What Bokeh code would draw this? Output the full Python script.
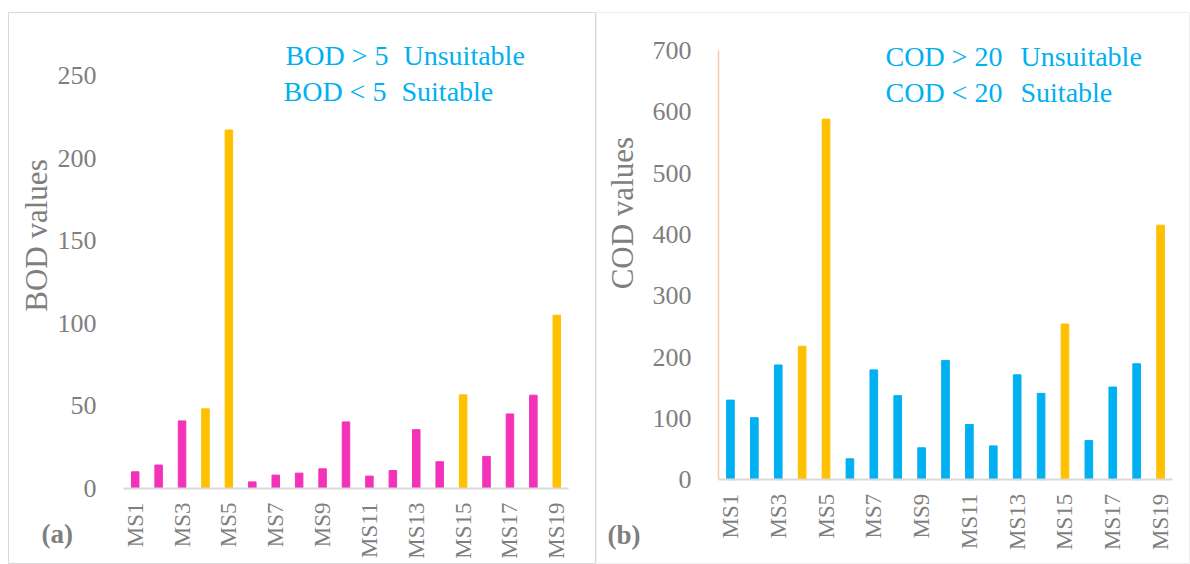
import math
from bokeh.plotting import figure
from bokeh.models import Range1d, FixedTicker, Label
from bokeh.layouts import row
from bokeh.embed import file_html
from bokeh.resources import INLINE

sites = ["MS%d" % i for i in range(1, 20)]
bod_values = [10.1, 14.2, 40.9, 48.2, 217, 4.0, 8.1, 9.3, 11.9, 40.3,
              7.5, 10.9, 35.6, 16.2, 56.7, 19.4, 45.1, 56.5, 104.9]
cod_values = [129.7, 101, 187, 217.6, 588, 34, 179, 137, 52, 194.5,
              90, 55, 171, 140.7, 253.8, 63.7, 151, 189, 415]
highlighted = ["MS4", "MS5", "MS15", "MS19"]
bod_ticks = [0, 50, 100, 150, 200, 250]
cod_ticks = [0, 100, 200, 300, 400, 500, 600, 700]
label_ticks = sites[0::2]

FONT = "Liberation Serif"
GRAY = "#7F7F7F"
GOLD = "#FFC000"
PINK = "#F331B9"
BLUE = "#00B0F0"


def make_panel(values, base_color, yticks, ylabel, canvas, frame, xanchor,
               yanchor, yaxis_color, texts, title_xy, tag, tag_xy, outline):
    # canvas: (page_left, page_top, width, height)
    # frame:  (page_left, page_right, page_top, page_bottom)
    cl, ct, cw, chh = canvas
    fl, fr, ft, fb = frame
    px0, px1 = xanchor
    py0, py1 = yanchor
    v0, v1 = 0.5, len(sites) + 0.5
    sx = (px1 - px0) / (v1 - v0)
    w0, w1 = yticks[0], yticks[-1]
    sy = (py0 - py1) / (w1 - w0)

    def fx(px):
        return v0 + (px - px0) / sx

    def fy(py):
        return w0 + (py0 - py) / sy

    xs = list(range(1, len(sites) + 1))
    colors = [GOLD if s in highlighted else base_color for s in sites]
    p = figure(width=cw, height=chh,
               x_range=Range1d(fx(fl), fx(fr)),
               y_range=Range1d(fy(fb), fy(ft)),
               output_backend="svg", toolbar_location=None,
               min_border_left=fl - cl, min_border_right=cl + cw - fr,
               min_border_top=ft - ct, min_border_bottom=ct + chh - fb)
    p.outline_line_color = outline
    p.background_fill_color = "white"
    p.border_fill_color = "white"
    p.xgrid.visible = False
    p.ygrid.visible = False
    p.vbar(x=xs, top=values, width=0.32, color=colors)

    xa = p.xaxis[0]
    xa.fixed_location = w0
    xa.bounds = (v0, v1)
    xa.ticker = FixedTicker(ticks=[sites.index(s) + 1 for s in label_ticks])
    xa.major_label_overrides = {sites.index(s) + 1: s for s in label_ticks}
    xa.major_label_orientation = math.pi / 2
    xa.major_label_text_font = FONT
    xa.major_label_text_font_size = "23px"
    xa.major_label_text_color = GRAY
    xa.major_label_standoff = 14
    xa.axis_line_color = "#D9D9D9"
    xa.axis_line_width = 2
    xa.major_tick_line_color = None
    xa.minor_tick_line_color = None
    xa.major_tick_out = 0
    xa.major_tick_in = 0

    ya = p.yaxis[0]
    ya.fixed_location = v0
    ya.bounds = (w0, w1)
    ya.ticker = FixedTicker(ticks=yticks)
    ya.major_label_text_font = FONT
    ya.major_label_text_font_size = "26px"
    ya.major_label_text_color = GRAY
    ya.major_label_standoff = 27
    ya.axis_line_color = yaxis_color
    ya.axis_line_width = 1.5
    ya.major_tick_line_color = None
    ya.minor_tick_line_color = None
    ya.major_tick_out = 0
    ya.major_tick_in = 0

    p.add_layout(Label(x=fx(title_xy[0]), y=fy(title_xy[1]), text=ylabel,
                       angle=math.pi / 2, text_align="center",
                       text_baseline="middle", text_font=FONT,
                       text_font_size="31px", text_color=GRAY))
    for (tx, ty, t) in texts:
        p.add_layout(Label(x=fx(tx), y=fy(ty), text=t, text_font=FONT,
                           text_font_size="28px", text_color=BLUE,
                           text_baseline="alphabetic"))
    p.add_layout(Label(x=fx(tag_xy[0]), y=fy(tag_xy[1]), text=tag,
                       text_font=FONT, text_font_size="27px",
                       text_font_style="bold", text_color=GRAY,
                       text_baseline="alphabetic"))
    return p


left = make_panel(bod_values, PINK, bod_ticks, "BOD values",
                  (0, 0, 596, 564), (8, 596, 12, 564), (123, 568), (488, 75),
                  None,
                  [(285, 55, "BOD > 5"), (403, 55, "Unsuitable"),
                   (283, 91, "BOD < 5"), (401, 91, "Suitable")],
                  (36, 235), "(a)", (41, 533), "#D9D9D9")

right = make_panel(cod_values, BLUE, cod_ticks, "COD values",
                   (596, 0, 594, 564), (596, 1190, 11, 564), (718, 1172),
                   (479, 49), "#F8CBAD",
                   [(885, 55, "COD > 20"), (1020, 55, "Unsuitable"),
                    (885, 91, "COD < 20"), (1020, 91, "Suitable")],
                   (622, 212), "(b)", (607, 534), "#EEEEEE")

layout = row(left, right, spacing=0)
open("out.html", "w").write(file_html(layout, INLINE))
